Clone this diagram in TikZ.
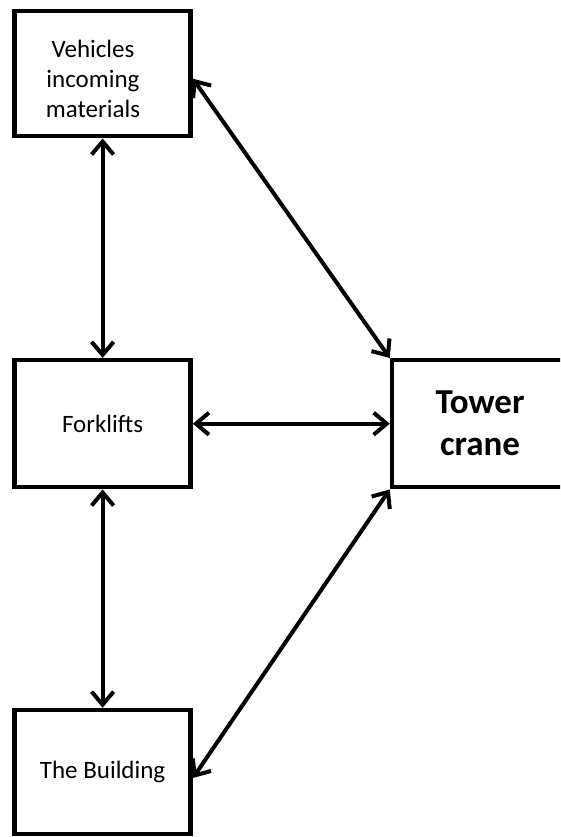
\documentclass[tikz,border=0pt]{standalone}
\usepackage{fontspec}
\setmainfont{Carlito}
\usetikzlibrary{arrows.meta}
\begin{document}
\begin{tikzpicture}[x=1pt,y=-1pt,
  block/.style={draw=black, line width=4.5pt, fill=white, align=center,
    inner sep=0pt, font=\fontsize{25}{30}\selectfont},
  link/.style={line width=4pt, {Straight Barb[length=13pt,width=22pt]}-{Straight Barb[length=13pt,width=22pt]}}]
  \useasboundingbox (0,0) rectangle (560,837);
  \clip (0,0) rectangle (560,837);
  \fill[white] (0,0) rectangle (560,837);

  % boxes
  \node[block, minimum width=176pt, minimum height=125pt] (veh) at (102.6,73.7) {};
  \node[font=\fontsize{25}{30}\selectfont, align=center] at (93,79) {Vehicles\\incoming\\materials};
  \node[block, minimum width=176pt, minimum height=127pt] (fork) at (102.6,423.7) {Forklifts};
  \node[block, minimum width=176pt, minimum height=124pt] (bld) at (102.6,772) {The Building};
  \node[block, minimum width=176pt, minimum height=127pt,
        font=\fontsize{35}{42}\selectfont\bfseries] (tow) at (480,423.7) {Tower\\crane};

  % connectors
  \draw[link] (veh.south) -- (fork.north);
  \draw[link] (fork.south) -- (bld.north);
  \draw[link] (fork.east) -- (tow.west);
  \draw[link] ([yshift=-5pt]veh.east) -- (tow.north west);
  \draw[link] ([yshift=-6pt]bld.east) -- (tow.south west);
\end{tikzpicture}
\end{document}
